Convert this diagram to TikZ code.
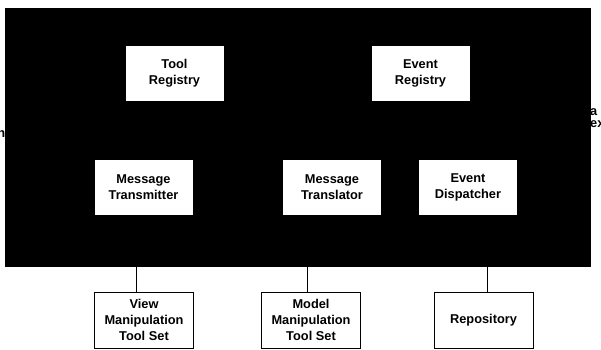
\documentclass[tikz,border=0pt]{standalone}
\usepackage{fontspec}
\setmainfont{Liberation Sans}
\begin{document}
\begin{tikzpicture}[x=1pt,y=-1pt,
  lbl/.style={font=\fontsize{12.8}{16}\selectfont\bfseries, align=center},
  inner/.style={lbl, fill=white, draw=none, inner sep=0pt, minimum width=98pt, minimum height=55pt},
  outer/.style={lbl, fill=white, draw=black, line width=0.9pt, inner sep=0pt, minimum width=99pt, minimum height=56pt},
  link/.style={draw=black, line width=1pt}]
\useasboundingbox (0,0) rectangle (601,349);
\fill[white] (0,0) rectangle (601,349);

% labels running off the edges of the framework block
\node[lbl, anchor=east, inner sep=0pt] (cutl) at (5.5,134) {n};
\node[lbl, anchor=west, inner sep=0pt] (cuta) at (590,112) {a};
\node[lbl, anchor=west, inner sep=0pt] (cutb) at (590,124) {ex};

% framework block
\node[fill=black, draw=none, inner sep=0pt, minimum width=586pt, minimum height=259pt] (frame) at (298,137.5) {};

% internal components
\node[inner] (toolreg) at (174.5,73.5) {Tool\\Registry};
\node[inner] (eventreg) at (420.5,73.5) {Event\\Registry};
\node[inner] (transmit) at (143.5,187.5) {Message\\Transmitter};
\node[inner] (translate) at (332,187.5) {Message\\Translator};
\node[inner] (dispatch) at (468,187.5) {Event\\Dispatcher};

% external tool sets
\node[outer] (viewset) at (144,320) {View\\Manipulation\\Tool Set};
\node[outer] (modelset) at (311,320) {Model\\Manipulation\\Tool Set};
\node[outer] (repo) at (483.5,320) {Repository};

% connections to the framework block
\draw[link] ([xshift=-8pt]viewset.north) -- ([xshift=-8pt]viewset.north |- frame.south);
\draw[link] ([xshift=-4pt]modelset.north) -- ([xshift=-4pt]modelset.north |- frame.south);
\draw[link] ([xshift=3.5pt]repo.north) -- ([xshift=3.5pt]repo.north |- frame.south);
\end{tikzpicture}
\end{document}
